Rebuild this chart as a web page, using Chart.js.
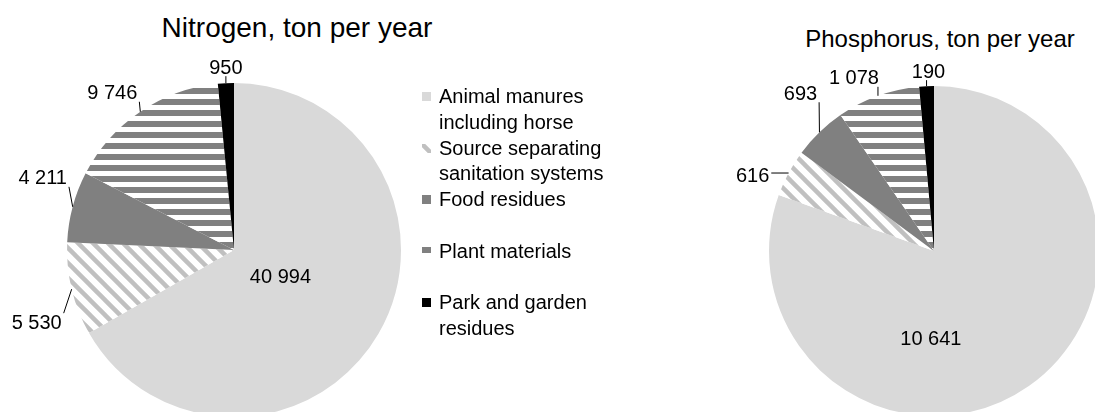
<!DOCTYPE html>
<html>
<head>
<meta charset="utf-8">
<script src="https://cdn.jsdelivr.net/npm/chart.js@4.4.1/dist/chart.umd.min.js"></script>
<style>
  body { margin: 0; width: 1095px; height: 412px; overflow: hidden; background: #fff; position: relative;
         font-family: "Liberation Sans", Arial, sans-serif; color: #000; }
  canvas { position: absolute; top: 0; }
  #nitrogen { left: 0; }
  #phosphorus { left: 700px; }
  .title { position: absolute; white-space: nowrap; transform: translate(-50%, -50%); line-height: 1; }
  #t1 { left: 297px; top: 28px; font-size: 28px; }
  #t2 { left: 940px; top: 39px; font-size: 24px; }
  #legend { position: absolute; left: 422px; top: 84px; z-index: 2; }
  .item { height: 51.5px; display: flex; align-items: flex-start; }
  .item canvas { position: static; margin-top: 8px; margin-right: 8px; }
  .item span { font-size: 20px; line-height: 25.7px; width: 180px; }
</style>
</head>
<body>
<div class="title" id="t1">Nitrogen, ton per year</div>
<div class="title" id="t2">Phosphorus, ton per year</div>
<canvas id="nitrogen" width="468" height="430"></canvas>
<canvas id="phosphorus" width="470" height="430"></canvas>
<div id="legend"></div>
<script>
var categories = ['Animal manures including horse', 'Source separating sanitation systems',
                  'Food residues', 'Plant materials', 'Park and garden residues'];
var nitrogen = [40994, 5530, 4211, 9746, 950];
var phosphorus = [10641, 616, 693, 1078, 190];

function makePattern(draw, w, h) {
  var c = document.createElement('canvas');
  c.width = w; c.height = h;
  var g = c.getContext('2d');
  g.fillStyle = '#fff';
  g.fillRect(0, 0, w, h);
  draw(g);
  return c.getContext('2d').createPattern(c, 'repeat');
}

var diag = makePattern(function(g) {
  g.strokeStyle = '#c0c0c0';
  g.lineWidth = 4.5;
  for (var k = -1; k <= 1; k++) {
    g.beginPath();
    g.moveTo(k * 15 - 2, -2);
    g.lineTo(k * 15 + 17, 17);
    g.stroke();
  }
}, 15, 15);

var horiz = makePattern(function(g) {
  g.fillStyle = '#808080';
  g.fillRect(0, 0, 11, 6);
}, 11, 11);

var fills = ['#d9d9d9', diag, '#808080', horiz, '#000000'];

function fmt(v) {
  return String(v).replace(/\B(?=(\d{3})+(?!\d))/g, ' ');
}

// labels sit next to the slice edge, shifted like Excel did it
var sliceLabels = {
  id: 'sliceLabels',
  afterDatasetsDraw: function(chart, args, opts) {
    var ctx = chart.ctx;
    var meta = chart.getDatasetMeta(0);
    var values = chart.data.datasets[0].data;
    ctx.save();
    ctx.font = '20px "Liberation Sans", Arial, sans-serif';
    ctx.fillStyle = '#000';
    ctx.strokeStyle = '#000';
    ctx.lineWidth = 1;
    ctx.textAlign = 'center';
    ctx.textBaseline = 'middle';
    meta.data.forEach(function(arc, i) {
      var p = arc.getProps(['x', 'y', 'startAngle', 'endAngle', 'outerRadius'], true);
      var mid = (p.startAngle + p.endAngle) / 2;
      var ex = p.x + Math.cos(mid) * p.outerRadius;
      var ey = p.y + Math.sin(mid) * p.outerRadius;
      var tx = ex + opts.offsets[i][0];
      var ty = ey + opts.offsets[i][1];
      var text = fmt(values[i]);
      ctx.fillText(text, tx, ty + 1);
      if (i > 0) {
        var w = ctx.measureText(text).width / 2 + 2;
        var h = 9;
        var lx = Math.min(Math.max(ex, tx - w), tx + w);
        var ly = Math.min(Math.max(ey, ty - h), ty + h);
        ctx.beginPath();
        ctx.moveTo(lx, ly);
        ctx.lineTo(ex, ey);
        ctx.stroke();
      }
    });
    ctx.restore();
  }
};

function pie(id, values, padding, offsets) {
  return new Chart(document.getElementById(id), {
    type: 'pie',
    data: {
      labels: categories,
      datasets: [{ data: values, backgroundColor: fills, borderWidth: 0 }]
    },
    options: {
      responsive: false,
      animation: false,
      layout: { padding: padding },
      plugins: {
        legend: { display: false },
        tooltip: { enabled: false },
        sliceLabels: { offsets: offsets }
      }
    },
    plugins: [sliceLabels]
  });
}

pie('nitrogen', nitrogen, { left: 67, right: 67, top: 83, bottom: 13 },
    [[-98, -57], [-35, 33], [-30, -29], [-28, -19], [0, -16]]);
pie('phosphorus', phosphorus, { left: 69, right: 71, top: 86, bottom: 14 },
    [[-98, -48], [-36, 2], [-19, -39], [-24, -18], [2, -15]]);

// legend
var legend = document.getElementById('legend');
categories.forEach(function(name, i) {
  var item = document.createElement('div');
  item.className = 'item';
  var sw = document.createElement('canvas');
  sw.width = 9; sw.height = 9;
  var g = sw.getContext('2d');
  g.fillStyle = fills[i];
  g.fillRect(0, 0, 9, 9);
  var t = document.createElement('span');
  t.textContent = name;
  item.appendChild(sw);
  item.appendChild(t);
  legend.appendChild(item);
});
</script>
</body>
</html>
